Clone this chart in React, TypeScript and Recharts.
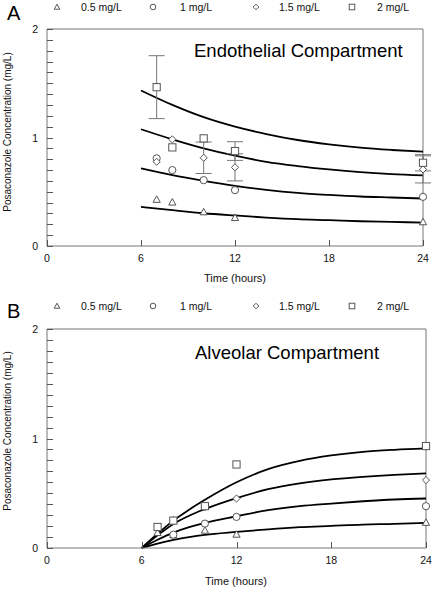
import {
  ComposedChart,
  ErrorBar,
  Line,
  ReferenceLine,
  Scatter,
  XAxis,
  YAxis,
} from "recharts";

// Concentration levels (legend order)
const DOSES = ["0.5 mg/L", "1 mg/L", "1.5 mg/L", "2 mg/L"];
const MARKERS = ["triangle", "circle", "diamond", "square"] as const;

const X_TICKS = [0, 6, 12, 18, 24];
const Y_TICKS = [
  0, 0.1, 0.2, 0.3, 0.4, 0.5, 0.6, 0.7, 0.8, 0.9, 1, 1.1, 1.2, 1.3, 1.4, 1.5,
  1.6, 1.7, 1.8, 1.9, 2,
];

// --- A: endothelial compartment ---
const ENDO_FIT_TIMES = [6, 8, 10, 12, 14, 16, 18, 20, 22, 24];
const ENDO_FIT_05 = [0.36, 0.33, 0.302, 0.281, 0.262, 0.247, 0.238, 0.228, 0.222, 0.216];
const ENDO_FIT_1 = [0.715, 0.653, 0.601, 0.555, 0.518, 0.49, 0.471, 0.456, 0.447, 0.438];
const ENDO_FIT_15 = [1.076, 0.983, 0.9, 0.832, 0.776, 0.737, 0.706, 0.681, 0.663, 0.651];
const ENDO_FIT_2 = [1.433, 1.3, 1.187, 1.1, 1.032, 0.977, 0.937, 0.906, 0.885, 0.869];

const OBS_TIMES = [7, 8, 10, 12, 24];
const ENDO_OBS_05 = [0.429, 0.404, 0.314, 0.262, 0.222];
const ENDO_OBS_1 = [0.808, 0.7, 0.607, 0.515, 0.453];
const ENDO_OBS_15 = [0.776, 0.983, 0.813, 0.725, 0.706];
const ENDO_ERR_15 = [null, null, 0.145, 0.125, 0.125];
const ENDO_OBS_2 = [1.464, 0.909, 0.992, 0.875, 0.767];
const ENDO_ERR_2 = [0.29, null, null, 0.086, 0.075];

// --- B: alveolar compartment ---
const ALV_FIT_TIMES = [6, 7, 8, 9, 10, 12, 14, 16, 18, 20, 22, 24];
const ALV_FIT_05 = [0, 0.04, 0.075, 0.1, 0.12, 0.147, 0.171, 0.19, 0.202, 0.214, 0.22, 0.229];
const ALV_FIT_1 = [0, 0.075, 0.14, 0.19, 0.23, 0.29, 0.345, 0.382, 0.406, 0.427, 0.443, 0.452];
const ALV_FIT_15 = [0, 0.115, 0.22, 0.295, 0.355, 0.455, 0.537, 0.59, 0.626, 0.65, 0.668, 0.681];
const ALV_FIT_2 = [0, 0.13, 0.25, 0.35, 0.44, 0.6, 0.72, 0.795, 0.845, 0.878, 0.897, 0.91];

const ALV_OBS_05 = [0.14, 0.12, 0.162, 0.125, 0.233];
const ALV_OBS_1 = [null, 0.122, 0.223, 0.284, 0.382];
const ALV_OBS_15 = [null, 0.254, 0.375, 0.452, 0.62];
const ALV_OBS_2 = [0.192, 0.25, 0.382, 0.763, 0.931];

const AXIS = "#777";
const TICK = "#555";
const MARK = "#555";
const FONT = '"Liberation Sans", Arial, Helvetica, sans-serif';

type Kind = (typeof MARKERS)[number];
type Pt = { t: number; c: number; err?: number };

function toCurve(times: number[], values: number[]): Pt[] {
  return times.map((t, i) => ({ t, c: values[i] }));
}

function toObs(values: (number | null)[], errs?: (number | null)[]): Pt[] {
  const out: Pt[] = [];
  values.forEach((c, i) => {
    if (c == null) return;
    const e = errs?.[i];
    out.push(e != null ? { t: OBS_TIMES[i], c, err: e } : { t: OBS_TIMES[i], c });
  });
  return out;
}

function Marker({ kind, cx, cy, r = 3.6 }: { kind: Kind; cx: number; cy: number; r?: number }) {
  const common = { fill: "#fff", stroke: MARK, strokeWidth: 1 };
  if (kind === "circle") return <circle cx={cx} cy={cy} r={r} {...common} />;
  if (kind === "square")
    return <rect x={cx - r} y={cy - r} width={2 * r} height={2 * r} {...common} />;
  if (kind === "diamond")
    return (
      <polygon
        points={`${cx},${cy - r} ${cx + r},${cy} ${cx},${cy + r} ${cx - r},${cy}`}
        {...common}
      />
    );
  return (
    <polygon
      points={`${cx},${cy - r} ${cx + r},${cy + r * 0.8} ${cx - r},${cy + r * 0.8}`}
      {...common}
    />
  );
}

// tick marks point into the plot; labels only on whole numbers
function YTick(props: any) {
  const { x, y, payload } = props;
  const v = payload.value as number;
  const yy = Math.round(y) + 0.5;
  return (
    <g>
      <path d={`M${x},${yy}H${x + 6}`} stroke={TICK} strokeWidth={1} fill="none" />
      {Number.isInteger(v) && (
        <text x={x - 9} y={y + 4} textAnchor="end" fontSize={10.5} fill="#111" fontFamily={FONT}>
          {v}
        </text>
      )}
    </g>
  );
}

function XTick(props: any) {
  const { x, y, payload } = props;
  const xx = Math.round(x) + 0.5;
  return (
    <g>
      <path d={`M${xx},${y}V${y - 6}`} stroke={TICK} strokeWidth={1} fill="none" />
      <text x={x} y={y + 16} textAnchor="middle" fontSize={10.5} fill="#111" fontFamily={FONT}>
        {payload.value}
      </text>
    </g>
  );
}

function Panel({
  fits,
  obs,
  errs,
  height,
  margin,
}: {
  fits: Pt[][];
  obs: Pt[][];
  errs: boolean[];
  height: number;
  margin: { top: number; right: number; bottom: number; left: number };
}) {
  return (
    <ComposedChart width={433} height={height} margin={margin}>
      <XAxis
        dataKey="t"
        type="number"
        domain={[0, 24]}
        ticks={X_TICKS}
        interval={0}
        height={40}
        tickSize={0}
        tickMargin={0}
        tickLine={false}
        axisLine={{ stroke: AXIS }}
        tick={XTick}
      />
      <YAxis
        type="number"
        domain={[0, 2]}
        ticks={Y_TICKS}
        interval={0}
        width={40}
        tickSize={0}
        tickMargin={0}
        tickLine={false}
        axisLine={{ stroke: AXIS }}
        tick={YTick}
      />
      <ReferenceLine y={2} stroke={AXIS} />
      <ReferenceLine x={24} stroke={AXIS} />
      {fits.map((d, i) => (
        <Line
          key={`fit-${i}`}
          data={d}
          dataKey="c"
          type="monotone"
          stroke="#000"
          strokeWidth={1.8}
          dot={false}
          activeDot={false}
          isAnimationActive={false}
        />
      ))}
      {obs.map((d, i) => (
        <Scatter
          key={`obs-${i}`}
          data={d}
          dataKey="c"
          isAnimationActive={false}
          shape={(p: any) => <Marker kind={MARKERS[i]} cx={p.cx} cy={p.cy} />}
        >
          {errs[i] && (
            <ErrorBar dataKey="err" direction="y" width={8} stroke="#777" strokeWidth={1} />
          )}
        </Scatter>
      ))}
    </ComposedChart>
  );
}

function Legend({ y }: { y: number }) {
  const symX = [57, 153, 256, 352];
  const textX = [81, 180, 279, 377];
  return (
    <g>
      {DOSES.map((d, i) => (
        <g key={d}>
          <Marker kind={MARKERS[i]} cx={symX[i]} cy={y - 4} r={2.8} />
          <text x={textX[i]} y={y} fontSize={10.5} fill="#111" fontFamily={FONT}>
            {d}
          </text>
        </g>
      ))}
    </g>
  );
}

export default function App() {
  const endoFits = [ENDO_FIT_05, ENDO_FIT_1, ENDO_FIT_15, ENDO_FIT_2].map((v) =>
    toCurve(ENDO_FIT_TIMES, v),
  );
  const endoObs = [
    toObs(ENDO_OBS_05),
    toObs(ENDO_OBS_1),
    toObs(ENDO_OBS_15, ENDO_ERR_15),
    toObs(ENDO_OBS_2, ENDO_ERR_2),
  ];
  const alvFits = [ALV_FIT_05, ALV_FIT_1, ALV_FIT_15, ALV_FIT_2].map((v) =>
    toCurve(ALV_FIT_TIMES, v),
  );
  const alvObs = [toObs(ALV_OBS_05), toObs(ALV_OBS_1), toObs(ALV_OBS_15), toObs(ALV_OBS_2)];

  return (
    <div
      style={{
        position: "absolute",
        left: 0,
        top: 0,
        width: 433,
        height: 589,
        background: "#fff",
        fontFamily: FONT,
        overflow: "hidden",
      }}
    >
      <div style={{ position: "absolute", left: 0, top: 0 }}>
        <Panel
          fits={endoFits}
          obs={endoObs}
          errs={[false, false, true, true]}
          height={295}
          margin={{ top: 29, right: 10, bottom: 9, left: 7 }}
        />
      </div>
      <div style={{ position: "absolute", left: 0, top: 295 }}>
        <Panel
          fits={alvFits}
          obs={alvObs}
          errs={[false, false, false, false]}
          height={294}
          margin={{ top: 34, right: 7, bottom: 1, left: 7 }}
        />
      </div>
      <svg
        width={433}
        height={589}
        style={{ position: "absolute", left: 0, top: 0, pointerEvents: "none" }}
      >
        <text x={7} y={20} fontSize={20} fill="#000" fontFamily={FONT}>
          A
        </text>
        <text x={7} y={318} fontSize={20} fill="#000" fontFamily={FONT}>
          B
        </text>
        <Legend y={11} />
        <Legend y={310} />
        <text x={194} y={57} fontSize={18.5} fill="#000" fontFamily={FONT}>
          Endothelial Compartment
        </text>
        <text x={195} y={359} fontSize={18.5} fill="#000" fontFamily={FONT}>
          Alveolar Compartment
        </text>
        <text
          x={11}
          y={132}
          transform="rotate(-90 11 132)"
          textAnchor="middle"
          fontSize={10}
          fill="#111"
          fontFamily={FONT}
        >
          Posaconazole Concentration (mg/L)
        </text>
        <text
          x={11}
          y={431}
          transform="rotate(-90 11 431)"
          textAnchor="middle"
          fontSize={10}
          fill="#111"
          fontFamily={FONT}
        >
          Posaconazole Concentration (mg/L)
        </text>
        <text x={235} y={282} textAnchor="middle" fontSize={11} fill="#111" fontFamily={FONT}>
          Time (hours)
        </text>
        <text x={236} y={585} textAnchor="middle" fontSize={11} fill="#111" fontFamily={FONT}>
          Time (hours)
        </text>
      </svg>
    </div>
  );
}
